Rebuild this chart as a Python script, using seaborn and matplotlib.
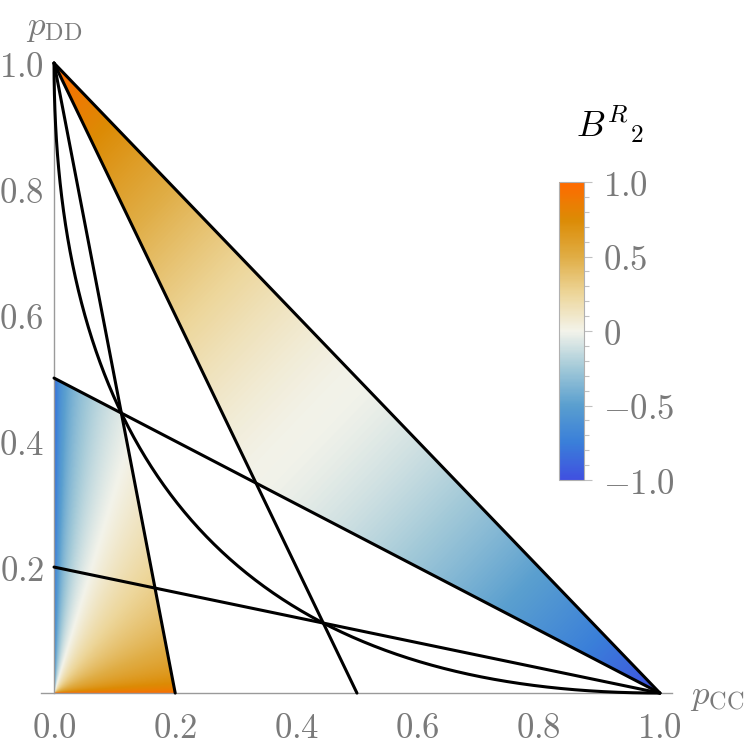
import numpy as np
import matplotlib
matplotlib.use("Agg")
import matplotlib.pyplot as plt
import seaborn as sns
from matplotlib.colors import LinearSegmentedColormap, Normalize
from matplotlib.patches import Polygon
from matplotlib.cm import ScalarMappable
from matplotlib.ticker import MultipleLocator, FixedLocator, FuncFormatter

# straight boundary lines, as (start, end) points in (p_CC, p_DD)
line_starts = [(0.0, 1.0), (0.0, 1.0), (0.0, 1.0), (0.0, 0.5), (0.0, 0.2)]
line_ends = [(1.0, 0.0), (0.5, 0.0), (0.2, 0.0), (1.0, 0.0), (1.0, 0.0)]

# shaded regions (polygon corners)
upper_region = [(0.0, 1.0), (1 / 3, 1 / 3), (1.0, 0.0)]
lower_region = [(0.0, 0.0), (0.2, 0.0), (1 / 9, 4 / 9), (0.0, 0.5)]

# colour scale
cmap_vals = [-1.0, -0.75, -0.5, -0.25, 0.0, 0.25, 0.5, 0.75, 1.0]
cmap_colors = ["#4050e0", "#3a7fd9", "#5a9fcf", "#a2c9d8", "#f3f3ea",
               "#edd69a", "#e0ad45", "#dc8b05", "#ff6a00"]

xticks = [0.0, 0.2, 0.4, 0.6, 0.8, 1.0]
yticks = [0.2, 0.4, 0.6, 0.8, 1.0]
cbar_ticks = [-1.0, -0.5, 0.0, 0.5, 1.0]
cbar_labels = ["$-1.0$", "$-0.5$", "$0$", "$0.5$", "$1.0$"]

GRAY = "#7a7a7a"

sns.set_style("white")
plt.rcParams["mathtext.fontset"] = "cm"
plt.rcParams["font.family"] = ["DejaVu Serif"]

cmap = LinearSegmentedColormap.from_list(
    "br2", list(zip([(v + 1) / 2 for v in cmap_vals], cmap_colors)))
norm = Normalize(-1, 1)

fig = plt.figure(figsize=(7.47, 7.5), dpi=100)
ax = fig.add_axes([0.0549, 0.0717, 0.8447, 0.8484])
ax.set_xlim(-0.0215, 1.02)
ax.set_ylim(-0.005, 1.005)

# density field
n = 900
gx, gy = np.meshgrid(np.linspace(0, 1, n), np.linspace(0, 1, n))
d = gy - gx
with np.errstate(divide="ignore", invalid="ignore"):
    b_upper = np.sign(d) * np.abs(d) ** 1.4
    b_lower = np.tanh(0.26 * np.log(3.2 * gx / np.maximum(gy, 1e-9)))
b_lower = np.nan_to_num(b_lower, nan=0.0, posinf=1.0, neginf=-1.0)

for field, corners in [(b_upper, upper_region), (b_lower, lower_region)]:
    im = ax.imshow(field, origin="lower", extent=(0, 1, 0, 1), cmap=cmap,
                   norm=norm, interpolation="bilinear", aspect="auto", zorder=1)
    patch = Polygon(corners, closed=True, transform=ax.transData,
                    facecolor="none", edgecolor="none")
    ax.add_patch(patch)
    im.set_clip_path(patch)

# lines
for (x0, y0), (x1, y1) in zip(line_starts, line_ends):
    sns.lineplot(x=[x0, x1], y=[y0, y1], sort=False, color="black",
                 linewidth=2.2, ax=ax, zorder=3)
t = np.linspace(0, 1, 400)
sns.lineplot(x=t ** 2, y=(1 - t) ** 2, sort=False, color="black",
             linewidth=2.2, ax=ax, zorder=3)

# axes in Mathematica style
for s in ["top", "right"]:
    ax.spines[s].set_visible(False)
ax.spines["left"].set_position(("data", 0))
ax.spines["bottom"].set_position(("data", 0))
ax.spines["left"].set_bounds(0, 1.0)
ax.spines["bottom"].set_bounds(-0.0215, 1.02)
for s in ["left", "bottom"]:
    ax.spines[s].set_color("#9a9a9a")
    ax.spines[s].set_linewidth(1.0)
    ax.spines[s].set_zorder(2)

fmt = FuncFormatter(lambda v, p: "${:.1f}$".format(v))
ax.xaxis.set_major_locator(FixedLocator(xticks))
ax.yaxis.set_major_locator(FixedLocator(yticks))
ax.xaxis.set_minor_locator(MultipleLocator(0.05))
ax.yaxis.set_minor_locator(MultipleLocator(0.05))
ax.xaxis.set_major_formatter(fmt)
ax.yaxis.set_major_formatter(fmt)
ax.tick_params(which="both", direction="in", color="#8a8a8a", width=1.0,
               labelcolor=GRAY, labelsize=25)
ax.tick_params(which="major", length=6)
ax.tick_params(which="minor", length=3.5)
ax.tick_params(axis="x", which="major", pad=13)
ax.tick_params(axis="y", which="major", pad=7)
ax.tick_params(top=False, right=False)

ax.annotate(r"$p_{\mathrm{DD}}$", xy=(0, 1.0), xytext=(0, 14),
            textcoords="offset points", ha="center", va="bottom",
            fontsize=25, color=GRAY)
ax.annotate(r"$p_{\mathrm{CC}}$", xy=(1.02, 0), xytext=(13, -2),
            textcoords="offset points", ha="left", va="center",
            fontsize=25, color=GRAY, annotation_clip=False)

# colour bar
cax = fig.add_axes([0.7483, 0.36, 0.0335, 0.3973])
cb = fig.colorbar(ScalarMappable(norm=norm, cmap=cmap), cax=cax)
cb.outline.set_edgecolor("#b0b0b0")
cb.outline.set_linewidth(0.8)
cb.set_ticks(cbar_ticks)
cb.set_ticklabels(cbar_labels)
cax.yaxis.set_minor_locator(MultipleLocator(0.1))
cax.tick_params(which="both", direction="out", color="#c0c0c0", width=0.8,
                labelcolor=GRAY, labelsize=25)
cax.tick_params(which="major", length=6, pad=8)
cax.tick_params(which="minor", length=3.5)
fig.text(610 / 747, 1 - 124 / 750, r"$B^{R}{}_{2}$", fontsize=26,
         color="black", ha="center", va="center")

fig.savefig("out.png", dpi=100)
